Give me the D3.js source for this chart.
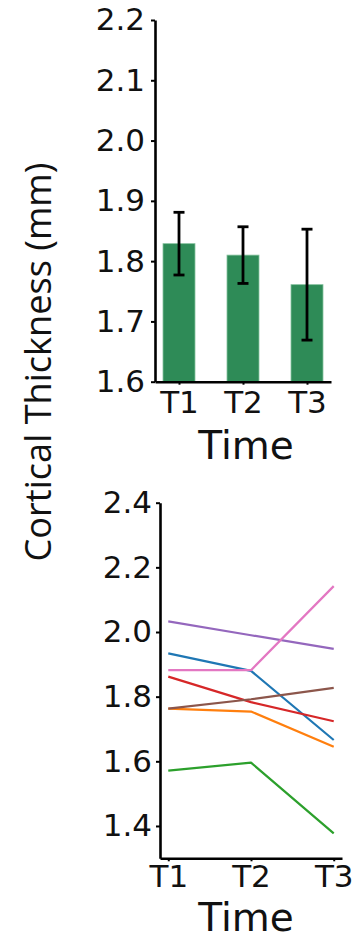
<!DOCTYPE html>
<html><head><meta charset="utf-8">
<script src="https://cdn.jsdelivr.net/npm/d3@7"></script>
<style>body{margin:0;background:#fff}svg{display:block}</style>
</head><body>
<script>
// ---- data ----
const categories = ["T1", "T2", "T3"];
const barMeans = [1.829, 1.810, 1.761];
const barErrors = [0.052, 0.047, 0.092];
const barTicks = [1.6, 1.7, 1.8, 1.9, 2.0, 2.1, 2.2];
const lineTicks = [1.4, 1.6, 1.8, 2.0, 2.2, 2.4];
const seriesBlue   = [1.934, 1.880, 1.666];
const seriesOrange = [1.763, 1.754, 1.645];
const seriesGreen  = [1.571, 1.596, 1.377];
const seriesRed    = [1.862, 1.783, 1.724];
const seriesPurple = [2.033, 1.990, 1.948];
const seriesBrown  = [1.763, 1.792, 1.827];
const seriesPink   = [1.882, 1.882, 2.142];
const lineSeries = [seriesBlue, seriesOrange, seriesGreen, seriesRed, seriesPurple, seriesBrown, seriesPink];
const lineColors = ["#1f77b4", "#ff7f0e", "#2ca02c", "#d62728", "#9467bd", "#8c564b", "#e377c2"];
const yLabel = "Cortical Thickness (mm)";
const xLabel = "Time";

(function () {
const W = 353, H = 940;
const svg = d3.select("body").append("svg").attr("width", W).attr("height", H);
svg.append("rect").attr("width", W).attr("height", H).attr("fill", "#fff");

const tickFont = "'DejaVu Sans', sans-serif";

function styleAxis(g) {
  g.select(".domain").attr("stroke", "#000").attr("stroke-width", 2.6);
  g.selectAll(".tick line").attr("stroke", "#000").attr("stroke-width", 2);
  g.selectAll(".tick text").attr("fill", "#111").attr("font-family", tickFont).attr("font-size", 31);
}

// ---- top: bar chart ----
const x1 = d3.scaleLinear().domain([-0.375, 2.375]).range([155, 331]);
const y1 = d3.scaleLinear().domain([1.6, 2.2]).range([381.7, 20]);
const gTop = svg.append("g");
gTop.selectAll("rect.bar").data(barMeans).join("rect").attr("class", "bar")
  .attr("x", (d, i) => x1(i - 0.25)).attr("width", x1(0.25) - x1(-0.25))
  .attr("y", d => y1(d)).attr("height", d => y1(1.6) - y1(d))
  .attr("fill", "#2e8b57").attr("stroke", "#86c29f").attr("stroke-width", 0.8);
const eb = gTop.selectAll("g.eb").data(barMeans).join("g").attr("class", "eb");
eb.append("line").attr("x1", (d, i) => x1(i)).attr("x2", (d, i) => x1(i))
  .attr("y1", (d, i) => y1(d + barErrors[i])).attr("y2", (d, i) => y1(d - barErrors[i]))
  .attr("stroke", "#000").attr("stroke-width", 2.8);
[1, -1].forEach(s => {
  eb.append("line").attr("x1", (d, i) => x1(i) - 5.5).attr("x2", (d, i) => x1(i) + 5.5)
    .attr("y1", (d, i) => y1(d + s * barErrors[i])).attr("y2", (d, i) => y1(d + s * barErrors[i]))
    .attr("stroke", "#000").attr("stroke-width", 2.8);
});
gTop.append("g").attr("transform", `translate(${x1.range()[0]},0)`)
  .call(d3.axisLeft(y1).tickValues(barTicks).tickFormat(d3.format(".1f")).tickSize(4).tickPadding(6).tickSizeOuter(0))
  .call(styleAxis);
gTop.append("g").attr("transform", `translate(0,${y1(1.6)})`)
  .call(d3.axisBottom(x1).tickValues([0, 1, 2]).tickFormat(i => categories[i]).tickSize(3).tickPadding(6).tickSizeOuter(0))
  .call(styleAxis);
gTop.append("text").attr("x", 246).attr("y", 459).attr("text-anchor", "middle")
  .attr("font-family", tickFont).attr("font-size", 39).attr("fill", "#111").text(xLabel);

// ---- bottom: line chart ----
const x2 = d3.scaleLinear().domain([-0.1, 2.1]).range([160, 342]);
const y2 = d3.scaleLinear().domain([1.3, 2.4]).range([858.3, 502.7]);
const gBot = svg.append("g");
const line = d3.line().x((d, i) => x2(i)).y(d => y2(d));
gBot.selectAll("path.series").data(lineSeries).join("path").attr("class", "series")
  .attr("d", line).attr("fill", "none").attr("stroke", (d, i) => lineColors[i])
  .attr("stroke-width", 2.2).attr("stroke-linejoin", "round");
gBot.append("g").attr("transform", `translate(${x2.range()[0]},0)`)
  .call(d3.axisLeft(y2).tickValues(lineTicks).tickFormat(d3.format(".1f")).tickSize(4).tickPadding(4).tickSizeOuter(0))
  .call(styleAxis);
gBot.append("g").attr("transform", `translate(0,${y2(1.3)})`)
  .call(d3.axisBottom(x2).tickValues([0, 1, 2]).tickFormat(i => categories[i]).tickSize(3).tickPadding(4).tickSizeOuter(0))
  .call(styleAxis);
gBot.append("text").attr("x", 246).attr("y", 931).attr("text-anchor", "middle")
  .attr("font-family", tickFont).attr("font-size", 39).attr("fill", "#111").text(xLabel);

// ---- shared y label ----
const yl = svg.append("text").attr("transform", "translate(51,362) rotate(-90)")
  .attr("text-anchor", "middle").attr("font-family", "'Open Sans', sans-serif")
  .attr("font-size", 36).attr("fill", "#111").text(yLabel);
const len = yl.node().getComputedTextLength();
yl.attr("font-size", 36 * 399 / len);
})();
</script>
</body></html>
